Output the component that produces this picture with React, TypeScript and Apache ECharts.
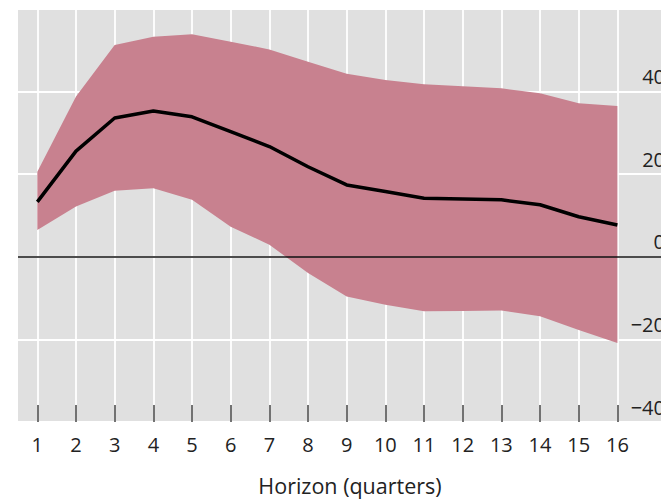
import React, { useEffect, useRef } from "react";
import * as echarts from "echarts";

const horizons = [1, 2, 3, 4, 5, 6, 7, 8, 9, 10, 11, 12, 13, 14, 15, 16];
const meanResponse = [13.3, 25.6, 33.6, 35.3, 33.9, 30.3, 26.7, 21.8, 17.4, 15.8, 14.2, 14.0, 13.8, 12.6, 9.7, 7.7];
const upperBound = [20.6, 38.8, 51.3, 53.3, 53.9, 52.1, 50.2, 47.2, 44.3, 42.8, 41.8, 41.3, 40.8, 39.6, 37.2, 36.5];
const lowerBound = [6.5, 12.2, 16.0, 16.6, 13.8, 7.3, 2.9, -3.9, -9.6, -11.6, -13.2, -13.1, -13.0, -14.4, -17.7, -20.9];
const yTickValues = [-40, -20, 0, 20, 40];
const xTitle = "Horizon (quarters)";

const FONT = "'Open Sans', 'Noto Sans', sans-serif";

export default function App() {
  const ref = useRef<HTMLDivElement>(null);

  useEffect(() => {
    document.body.style.margin = "0";
    document.body.style.overflow = "hidden";
    const chart = echarts.init(ref.current!, null, { renderer: "svg" });
    const bandData = horizons.map((h, i) => [h, lowerBound[i], upperBound[i]]);
    const meanData = horizons.map((h, i) => [h, meanResponse[i]]);

    chart.setOption({
      animation: false,
      backgroundColor: "#ffffff",
      textStyle: { fontFamily: FONT },
      title: {
        text: xTitle,
        left: 345,
        top: 469,
        textAlign: "center",
        textStyle: { fontFamily: FONT, fontSize: 21.5, fontWeight: "normal", color: "#222" },
      },
      grid: {
        left: 18,
        right: 0,
        top: 9,
        bottom: 77,
        show: true,
        backgroundColor: "#e0e0e0",
        borderWidth: 0,
        containLabel: false,
        outerBoundsMode: "none",
      },
      xAxis: {
        type: "value",
        min: 0.5,
        max: 0.5 + 643 / 38.67,
        axisLine: { show: false, onZero: false },
        axisTick: {
          show: true,
          inside: true,
          length: 17,
          customValues: horizons,
          lineStyle: { color: "#444", width: 1.5 },
        },
        axisLabel: {
          customValues: horizons,
          margin: 12,
          fontSize: 20,
          color: "#222",
          fontFamily: FONT,
        },
        splitLine: { show: true, lineStyle: { color: "#ffffff", width: 1.8 } },
      },
      yAxis: {
        type: "value",
        position: "right",
        min: -40,
        max: 60,
        interval: 20,
        axisLine: { show: false },
        axisTick: { show: false },
        axisLabel: {
          inside: true,
          margin: -4,
          fontSize: 20,
          color: "#222",
          fontFamily: FONT,
          verticalAlign: "bottom",
          padding: [0, 0, 5, 0],
          formatter: (v: number) =>
            yTickValues.includes(v) ? (v < 0 ? "\u2212" + Math.abs(v) : String(v)) : "",
        },
        splitLine: { show: true, lineStyle: { color: "#ffffff", width: 1.8 } },
      },
      series: [
        {
          name: "band",
          type: "custom",
          data: bandData,
          encode: { x: 0, y: [1, 2] },
          z: 2,
          renderItem: (params: any, api: any) => {
            if (params.dataIndex !== 0) return null;
            const top = bandData.map((d) => api.coord([d[0], d[2]]));
            const bottom = bandData.map((d) => api.coord([d[0], d[1]])).reverse();
            return {
              type: "polygon",
              shape: { points: top.concat(bottom) },
              style: { fill: "#c8818f", stroke: "none" },
            };
          },
        },
        {
          name: "mean",
          type: "line",
          data: meanData,
          symbol: "none",
          lineStyle: { color: "#000000", width: 3.5 },
          z: 4,
          markLine: {
            silent: true,
            symbol: "none",
            label: { show: false },
            lineStyle: { color: "#111", width: 1.5, type: "solid" },
            data: [{ yAxis: 0 }],
          },
        },
      ],
    });
    return () => chart.dispose();
  }, []);

  return <div ref={ref} style={{ width: 661, height: 499 }} />;
}
